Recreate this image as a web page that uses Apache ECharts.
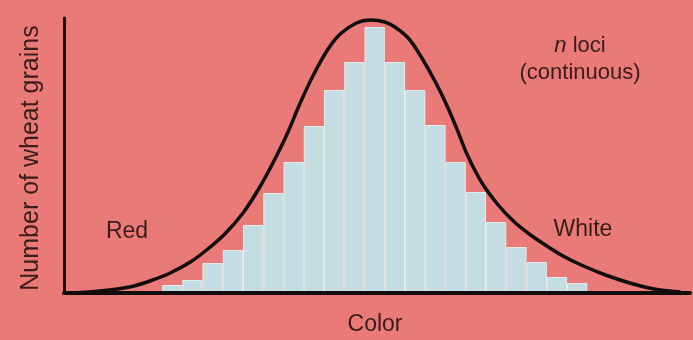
<!DOCTYPE html>
<html>
<head>
<meta charset="utf-8">
<script src="https://cdn.jsdelivr.net/npm/echarts@6/dist/echarts.min.js"></script>
<style>
  html, body { margin: 0; padding: 0; background: #e97a78; }
  #chart { width: 693px; height: 340px; }
</style>
</head>
<body>
<div id="chart"></div>
<script>
// bar positions (bin index along the colour scale) and grain counts
const binPos = [0, 1, 2, 3, 4, 5, 6, 7, 8, 9, 10, 11, 12, 13, 14, 15, 16, 17, 18, 19, 20]
const binCounts = [8, 13, 30, 43, 68, 100, 131, 167, 203, 231, 266, 231, 203, 168, 131, 101, 71, 46, 31, 16, 10]

// continuous curve (same units)
const curveX = [-5.0, -4.1, -3.1, -2.1, -1.1, -0.1, 0.9, 1.7, 2.6, 3.5, 4.3, 5.0, 5.7, 6.3, 7.0, 7.7, 8.3, 9.1, 9.8,
  10.5, 11.0, 11.7, 12.3, 13.0, 13.6, 14.1, 14.6, 15.3, 16.1, 16.9, 17.7, 18.5, 19.3, 20.2, 21.4, 22.6, 23.8, 25.1]
const curveY = [0, 1, 3, 6, 12, 20, 31, 43, 59, 80, 105, 131, 160, 189, 219, 244, 259, 270, 273,
  271, 266, 254, 236, 211, 186, 162, 137, 110, 88, 71, 58, 47, 37, 28, 18, 10, 4, 1]

const textColor = '#3a1c1d'
const font = '"Liberation Sans", Arial, sans-serif'

const chart = echarts.init(document.getElementById('chart'))

const option = {
  backgroundColor: '#e97a78',
  animation: false,
  grid: { left: 64, right: 3, top: 18, bottom: 47 },
  xAxis: {
    type: 'value',
    min: -5.34,
    max: 25.57,
    z: 5,
    axisLine: { show: true, onZero: false, lineStyle: { color: '#120c0c', width: 4 } },
    axisTick: { show: false },
    axisLabel: { show: false },
    splitLine: { show: false }
  },
  yAxis: {
    type: 'value',
    min: 0,
    max: 275,
    z: 5,
    axisLine: { show: true, onZero: false, lineStyle: { color: '#120c0c', width: 3 } },
    axisTick: { show: false },
    axisLabel: { show: false },
    splitLine: { show: false }
  },
  series: [
    {
      type: 'bar',
      data: binPos.map((x, i) => [x, binCounts[i]]),
      barWidth: 20.25,
      itemStyle: {
        color: '#c3dde2',
        borderColor: '#e4eeed',
        borderWidth: 1
      },
      z: 2
    },
    {
      type: 'line',
      data: curveX.map((x, i) => [x, curveY[i]]),
      smooth: 0.3,
      symbol: 'none',
      lineStyle: { color: '#130d0d', width: 3.5 },
      z: 3
    }
  ],
  graphic: [
    {
      type: 'text', x: 31, y: 158, rotation: Math.PI / 2,
      style: { text: 'Number of wheat grains', font: '25px ' + font, fill: textColor, align: 'center', verticalAlign: 'middle' }
    },
    {
      type: 'text', x: 375, y: 325,
      style: { text: 'Color', font: '23px ' + font, fill: textColor, align: 'center', verticalAlign: 'middle' }
    },
    {
      type: 'text', x: 127, y: 232,
      style: { text: 'Red', font: '23px ' + font, fill: textColor, align: 'center', verticalAlign: 'middle' }
    },
    {
      type: 'text', x: 583, y: 230,
      style: { text: 'White', font: '23px ' + font, fill: textColor, align: 'center', verticalAlign: 'middle' }
    },
    {
      type: 'text', x: 580, y: 46,
      style: {
        text: '{i|n} loci', font: '22px ' + font, fill: textColor, align: 'center', verticalAlign: 'middle',
        rich: { i: { fontStyle: 'italic', fontSize: 22, fontFamily: font, fill: textColor } }
      }
    },
    {
      type: 'text', x: 580, y: 73,
      style: { text: '(continuous)', font: '22px ' + font, fill: textColor, align: 'center', verticalAlign: 'middle' }
    }
  ]
}

chart.setOption(option)
</script>
</body>
</html>
